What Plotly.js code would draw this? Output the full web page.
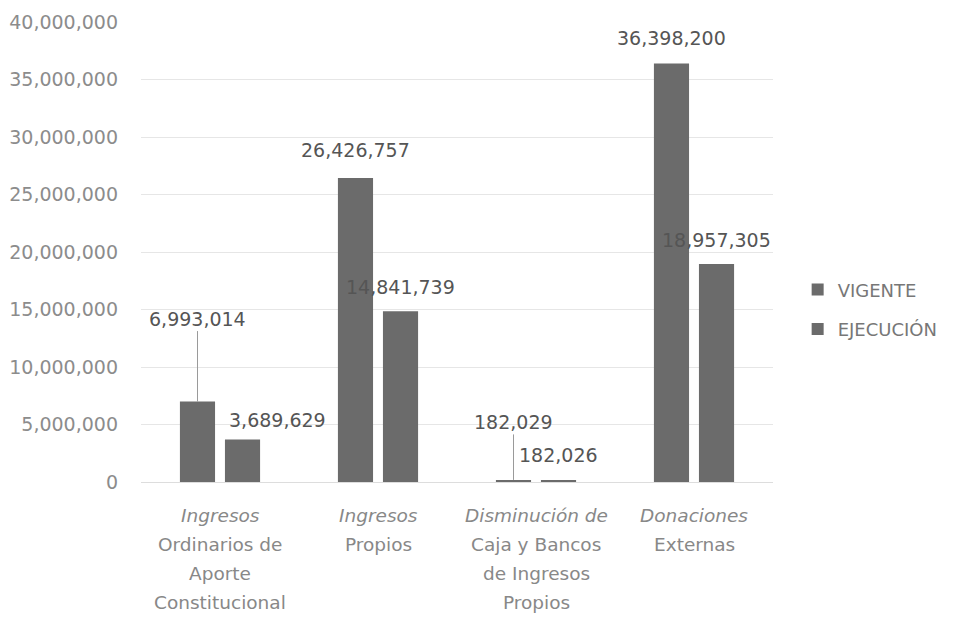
<!DOCTYPE html>
<html>
<head>
<meta charset="utf-8">
<script src="https://cdn.plot.ly/plotly-3.0.1.min.js"></script>
<style>html,body{margin:0;padding:0;background:#fff;}#chart{width:963px;height:630px;}</style>
</head>
<body>
<div id="chart"></div>
<script>
// ---- data ----
const categories = [
  'Ingresos Ordinarios de Aporte Constitucional',
  'Ingresos Propios',
  'Disminución de Caja y Bancos de Ingresos Propios',
  'Donaciones Externas'
];
const categoryLines = [
  ['Ingresos', 'Ordinarios de', 'Aporte', 'Constitucional'],
  ['Ingresos', 'Propios'],
  ['Disminución de', 'Caja y Bancos', 'de Ingresos', 'Propios'],
  ['Donaciones', 'Externas']
];
const seriesNames = ['VIGENTE', 'EJECUCIÓN'];
const vigente = [6993014, 26426757, 182029, 36398200];
const ejecucion = [3689629, 14841739, 182026, 18957305];
const yTickVals = [0, 5000000, 10000000, 15000000, 20000000, 25000000, 30000000, 35000000, 40000000];

// ---- style (label placement) ----
const barColor = '#6b6b6b';
const slot = 22.5;
const vigLabelStyle = [
  {dx: 0, dy: 0, arrowAy: -83},
  {dx: 0, dy: 28},
  {dx: 0, dy: 0, arrowAy: -58},
  {dx: 0, dy: 25}
];
const ejeLabelStyle = [
  {dx: 35, dy: 20},
  {dx: 0, dy: 24},
  {dx: 0, dy: 25},
  {dx: 0, dy: 24}
];

const fmt = v => v.toLocaleString('en-US');
const FONT = 'DejaVu Sans, sans-serif';

const traces = [
  {type: 'bar', name: seriesNames[0], x: categories, y: vigente, marker: {color: barColor}, legendgroup: 'a', hoverinfo: 'y'},
  {type: 'bar', name: seriesNames[1], x: categories, y: ejecucion, marker: {color: barColor}, legendgroup: 'b', hoverinfo: 'y'}
];

const annotations = [];
function addLabels(values, style, side) {
  values.forEach((v, i) => {
    const s = style[i];
    const a = {
      x: categories[i], xref: 'x', y: v, yref: 'y',
      text: fmt(v),
      font: {family: FONT, size: 19, color: '#555555'},
      xshift: side * slot + s.dx
    };
    if (s.arrowAy !== undefined) {
      Object.assign(a, {showarrow: true, ax: 0, ay: s.arrowAy, arrowhead: 0, arrowwidth: 1,
        arrowcolor: '#9a9a9a', standoff: 0, startstandoff: 0});
    } else {
      Object.assign(a, {showarrow: false, yshift: s.dy, yanchor: 'middle', xanchor: 'center'});
    }
    annotations.push(a);
  });
}
addLabels(vigente, vigLabelStyle, -1);
addLabels(ejecucion, ejeLabelStyle, 1);

categoryLines.forEach((lines, i) => {
  lines.forEach((ln, j) => {
    annotations.push({
      x: categories[i], xref: 'x', y: 0, yref: 'paper',
      text: j === 0 ? '<i>' + ln + '</i>' : ln,
      showarrow: false, xanchor: 'center', yanchor: 'middle',
      yshift: -(33 + j * 29),
      font: {family: FONT, size: 18.5, color: '#888888'}
    });
  });
});

const layout = {
  width: 963, height: 630,
  margin: {l: 141, r: 190, t: 22, b: 148},
  paper_bgcolor: '#ffffff', plot_bgcolor: '#ffffff',
  barmode: 'group', bargap: 0.43, bargroupgap: 0.22,
  font: {family: FONT, color: '#888888'},
  xaxis: {type: 'category', showticklabels: false, showgrid: false, zeroline: false, showline: false, ticks: ''},
  yaxis: {
    range: [0, 40000000], tickvals: yTickVals, ticktext: yTickVals.map(fmt),
    tickfont: {family: FONT, size: 19, color: '#8c8c8c'},
    showgrid: true, gridcolor: '#e6e6e6', gridwidth: 1,
    zeroline: true, zerolinecolor: '#dddddd', zerolinewidth: 1,
    showline: false, ticks: '', ticklabelstandoff: 22
  },
  showlegend: true,
  legend: {
    x: 1.039, xanchor: 'left', y: 0.458, yanchor: 'top',
    font: {family: FONT, size: 18, color: '#777777'},
    tracegroupgap: 13, traceorder: 'grouped', bgcolor: 'rgba(0,0,0,0)', itemwidth: 30
  },
  annotations: annotations
};

Plotly.newPlot('chart', traces, layout, {displayModeBar: false, staticPlot: true});
</script>
</body>
</html>
